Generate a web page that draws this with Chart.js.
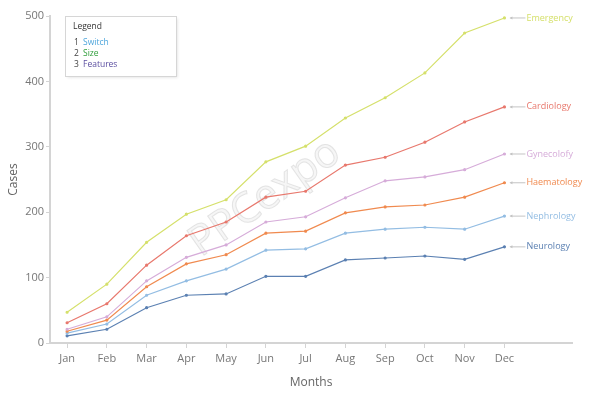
<!DOCTYPE html>
<html>
<head>
<meta charset="utf-8">
<script src="https://cdn.jsdelivr.net/npm/chart.js@4.4.0/dist/chart.umd.min.js"></script>
<style>
  html, body { margin: 0; padding: 0; background: #fff; }
  #wrap { width: 589px; height: 397px; position: relative; }
</style>
</head>
<body>
<div id="wrap"><canvas id="cases-canvas"></canvas></div>
<script>
  // categories
  const months = ['Jan', 'Feb', 'Mar', 'Apr', 'May', 'Jun', 'Jul', 'Aug', 'Sep', 'Oct', 'Nov', 'Dec'];

  // series values
  const emergency   = [47, 90, 154, 197, 219, 277, 301, 344, 375, 413, 474, 497];
  const cardiology  = [31, 60, 119, 164, 185, 223, 232, 272, 284, 307, 338, 361];
  const gynecolofy  = [21, 40, 95, 131, 150, 185, 193, 222, 248, 254, 265, 289];
  const haematology = [18, 35, 86, 121, 135, 168, 171, 199, 208, 211, 223, 245];
  const nephrology  = [15, 29, 73, 95, 113, 142, 144, 168, 174, 177, 174, 194];
  const neurology   = [11, 21, 54, 73, 75, 102, 102, 127, 130, 133, 128, 147];

  const seriesNames  = ['Emergency', 'Cardiology', 'Gynecolofy', 'Haematology', 'Nephrology', 'Neurology'];
  const seriesValues = [emergency, cardiology, gynecolofy, haematology, nephrology, neurology];
  const seriesColors = ['#d5e06b', '#e8786d', '#d6acd9', '#f08a4f', '#93bde3', '#5b80b2'];

  // y tick labels
  const yTicks = [0, 100, 200, 300, 400, 500];

  // box in the top left corner
  const legendTitle = 'Legend';
  const legendItems = ['Switch', 'Size', 'Features'];
  const legendColors = ['#4ea6dc', '#2f9e3a', '#5b4ea0'];

  const font = '"Open Sans", "Noto Sans", sans-serif';

  let datasets = seriesNames.map(function(name, k) {
    return {
      label: name,
      data: seriesValues[k].map(function(v, i) { return { x: i, y: v }; }),
      borderColor: seriesColors[k],
      backgroundColor: seriesColors[k],
      borderWidth: 1.2,
      pointRadius: 1,
      pointHoverRadius: 1,
      tension: 0
    };
  });

  // watermark behind the lines
  const watermark = {
    id: 'watermark',
    beforeDatasetsDraw(chart) {
      const ctx = chart.ctx;
      ctx.save();
      ctx.translate(265, 198);
      ctx.rotate(-35 * Math.PI / 180);
      ctx.font = '42px ' + font;
      ctx.textAlign = 'center';
      ctx.textBaseline = 'middle';
      ctx.fillStyle = 'rgba(242,242,242,0.7)';
      ctx.strokeStyle = 'rgba(200,200,200,0.45)';
      ctx.lineWidth = 1;
      ctx.fillText('PPCexpo', 0, 0);
      ctx.strokeText('PPCexpo', 0, 0);
      ctx.restore();
    }
  };

  // series names at the end of each line, with a small leader
  const endLabels = {
    id: 'endLabels',
    afterDatasetsDraw(chart) {
      const ctx = chart.ctx;
      const xs = chart.scales.x, ys = chart.scales.y;
      ctx.save();
      seriesNames.forEach(function(name, k) {
        const last = seriesValues[k].length - 1;
        const px = xs.getPixelForValue(last);
        const py = ys.getPixelForValue(seriesValues[k][last]);
        ctx.strokeStyle = '#c4c4c4';
        ctx.lineWidth = 1;
        ctx.beginPath();
        ctx.moveTo(px + 6, py);
        ctx.lineTo(px + 21, py);
        ctx.stroke();
        ctx.fillStyle = '#c4c4c4';
        ctx.beginPath();
        ctx.moveTo(px + 5, py);
        ctx.lineTo(px + 8, py - 1.5);
        ctx.lineTo(px + 8, py + 1.5);
        ctx.closePath();
        ctx.fill();
        ctx.font = '9px ' + font;
        ctx.textAlign = 'left';
        ctx.textBaseline = 'middle';
        ctx.fillStyle = seriesColors[k];
        ctx.fillText(name, px + 22, py);
      });
      ctx.restore();
    }
  };

  // the little legend box
  const legendBox = {
    id: 'legendBox',
    afterDraw(chart) {
      const ctx = chart.ctx;
      ctx.save();
      ctx.shadowColor = 'rgba(0,0,0,0.12)';
      ctx.shadowBlur = 3;
      ctx.shadowOffsetX = 1;
      ctx.shadowOffsetY = 1;
      ctx.fillStyle = '#fff';
      ctx.fillRect(65.5, 16.5, 111, 60);
      ctx.shadowColor = 'transparent';
      ctx.strokeStyle = '#d6d6d6';
      ctx.lineWidth = 1;
      ctx.strokeRect(65.5, 16.5, 111, 60);
      ctx.textBaseline = 'middle';
      ctx.textAlign = 'left';
      ctx.font = '8.5px ' + font;
      ctx.fillStyle = '#333';
      ctx.fillText(legendTitle, 73, 27);
      legendItems.forEach(function(item, i) {
        const y = 43 + i * 11;
        ctx.fillStyle = '#444';
        ctx.fillText(String(i + 1), 74, y);
        ctx.fillStyle = legendColors[i];
        ctx.fillText(item, 83, y);
      });
      ctx.restore();
    }
  };

  let cases_ctx = document.getElementById('cases-canvas').getContext('2d');
  let cases_chart = new Chart(cases_ctx, {
    type: 'line',
    data: { datasets: datasets },
    plugins: [watermark, endLabels, legendBox],
    options: {
      responsive: true,
      maintainAspectRatio: false,
      animation: false,
      layout: { padding: { left: 6, right: 17, top: 16, bottom: 7 } },
      plugins: {
        legend: { display: false },
        tooltip: { enabled: false }
      },
      scales: {
        x: {
          type: 'linear',
          min: -0.43,
          max: 12.7,
          afterBuildTicks: function(scale) {
            scale.ticks = months.map(function(m, i) { return { value: i }; });
          },
          afterFit: function(scale) { scale.height = 47; },
          grid: {
            display: true,
            drawOnChartArea: false,
            drawTicks: true,
            tickLength: 5,
            color: '#d4d4d4'
          },
          border: { display: true, color: '#d4d4d4', width: 2 },
          ticks: {
            autoSkip: false,
            maxRotation: 0,
            padding: 4,
            color: '#777',
            font: { family: font, size: 11 },
            callback: function(v) { return months[v]; }
          },
          title: {
            display: true,
            text: 'Months',
            color: '#666',
            font: { family: font, size: 12 },
            padding: { top: 2, bottom: 0 }
          }
        },
        y: {
          min: 0,
          max: 500,
          afterBuildTicks: function(scale) {
            scale.ticks = yTicks.map(function(v) { return { value: v }; });
          },
          afterFit: function(scale) { scale.width = 44; },
          grid: {
            display: true,
            drawOnChartArea: false,
            drawTicks: true,
            tickLength: 4,
            color: '#d4d4d4'
          },
          border: { display: true, color: '#d4d4d4', width: 2 },
          ticks: {
            padding: 2,
            color: '#777',
            font: { family: font, size: 11 }
          },
          title: {
            display: true,
            text: 'Cases',
            color: '#666',
            font: { family: font, size: 12 },
            padding: { top: 0, bottom: 4 }
          }
        }
      }
    }
  });
</script>
</body>
</html>
